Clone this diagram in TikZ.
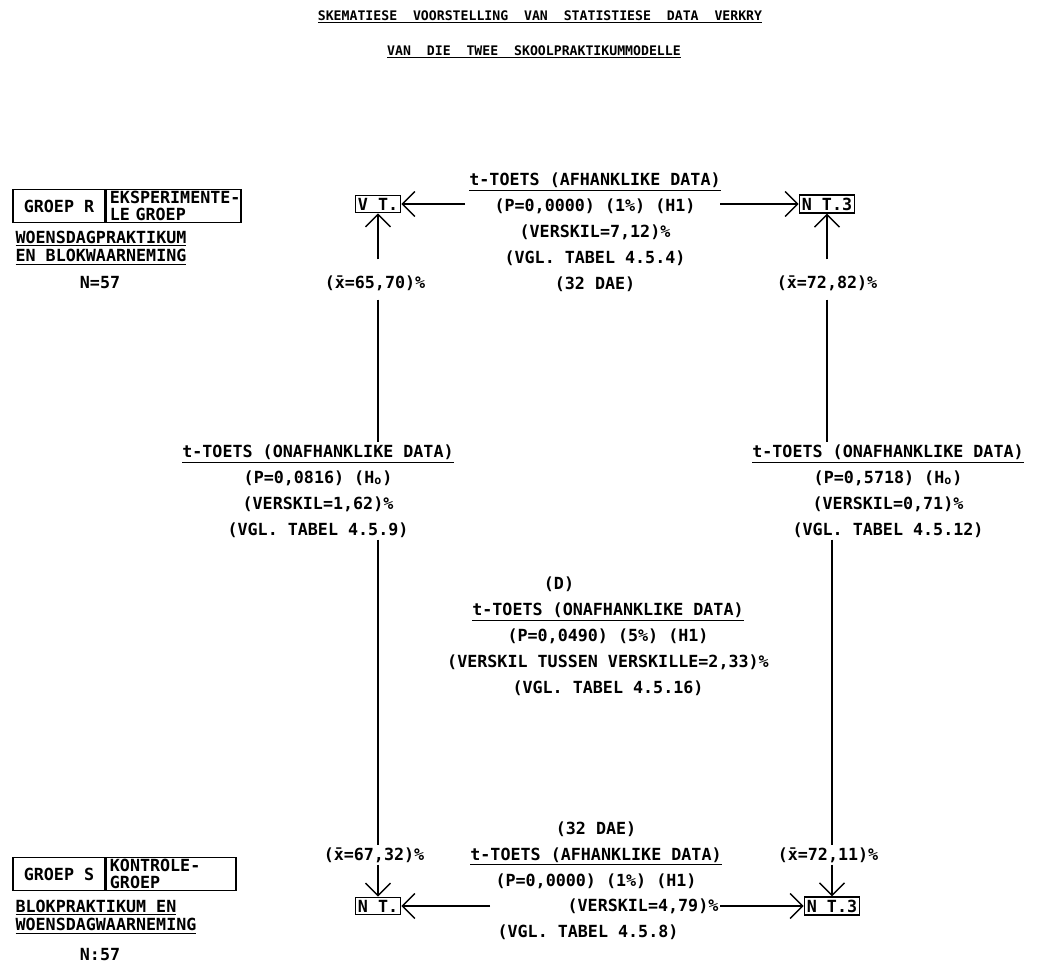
\documentclass[tikz,border=0pt]{standalone}
\usepackage{fontspec}
\setmonofont{DejaVu Sans Mono}
\usetikzlibrary{arrows.meta}

\begin{document}
\begin{tikzpicture}[x=0.02cm,y=-0.02cm,
    every node/.style={font=\ttfamily\bfseries\fontsize{9.5}{14.8}\selectfont,align=center,inner sep=1pt},
    kop/.style={font=\ttfamily\bfseries\fontsize{7.5}{9}\selectfont},
    twee/.style={font=\ttfamily\bfseries\fontsize{9.5}{10.5}\selectfont,align=left},
    vak/.style={draw,thick,font=\ttfamily\bfseries\fontsize{9.5}{9.5}\selectfont,minimum height=0.66cm,inner xsep=2pt},
    mt/.style={draw,thick,inner sep=1.5pt},
    pyl/.style={thick,-{Straight Barb[length=2.5mm,width=5mm]}}]
  \useasboundingbox (0,0) rectangle (1051,970);
  % titel
  \node[kop] (t1) at (540,17) {\underline{SKEMATIESE\ \ VOORSTELLING\ \ VAN\ \ STATISTIESE\ \ DATA\ \ VERKRY}};
  \node[kop] (t2) at (534,52) {\underline{VAN\ \ DIE\ \ TWEE\ \ SKOOLPRAKTIKUMMODELLE}};
  % groep R
  \node[vak,minimum width=1.84cm] (gr) at (59,206) {GROEP R};
  \node[vak,text width=2.55cm,anchor=west,align=left] (er) at (gr.east) {EKSPERIMENTE-\\LE GROEP};
  \node[twee] (wr) at (101,248) {\underline{WOENSDAGPRAKTIKUM}\\\underline{EN BLOKWAARNEMING}};
  \node (nr) at (100,283) {N=57};
  % groep S
  \node[vak,minimum width=1.84cm] (gs) at (59,874) {GROEP S};
  \node[vak,text width=2.45cm,anchor=west,align=left] (ks) at (gs.east) {KONTROLE-\\GROEP};
  \node[twee] (bs) at (106,917) {\underline{BLOKPRAKTIKUM EN}\\\underline{WOENSDAGWAARNEMING}};
  \node (ns) at (100,955) {N:57};
  % toetse
  \node[mt] (vt) at (378,204) {V T.};
  \node[mt] (nt) at (827,204) {N T.3};
  \node[mt] (vn) at (378,906) {N T.};
  \node[mt] (nn) at (832,906) {N T.3};
  \node (xa) at (375,283) {(\={x}=65,70)\%};
  \node (xb) at (827,283) {(\={x}=72,82)\%};
  \node (xc) at (374,855) {(\={x}=67,32)\%};
  \node (xd) at (828,855) {(\={x}=72,11)\%};
  \node (ta) at (595,232) {\underline{t-TOETS (AFHANKLIKE DATA)}\\(P=0,0000) (1\%) (H1)\\(VERSKIL=7,12)\%\\(VGL. TABEL 4.5.4)\\(32 DAE)};
  \node (la) at (318,491) {\underline{t-TOETS (ONAFHANKLIKE DATA)}\\(P=0,0816) (H\textsubscript{o})\\(VERSKIL=1,62)\%\\(VGL. TABEL 4.5.9)};
  \node (ra) at (888,491) {\underline{t-TOETS (ONAFHANKLIKE DATA)}\\(P=0,5718) (H\textsubscript{o})\\(VERSKIL=0,71)\%\\(VGL. TABEL 4.5.12)};
  \node (dd) at (559,584) {(D)};
  \node (md) at (608,649) {\underline{t-TOETS (ONAFHANKLIKE DATA)}\\(P=0,0490) (5\%) (H1)\\(VERSKIL TUSSEN VERSKILLE=2,33)\%\\(VGL. TABEL 4.5.16)};
  \node (ba) at (596,855) {(32 DAE)\\\underline{t-TOETS (AFHANKLIKE DATA)}\\(P=0,0000) (1\%) (H1)};
  \node (bv) at (643,906) {(VERSKIL=4,79)\%};
  \node (bg) at (588,932) {(VGL. TABEL 4.5.8)};
  % pyle
  \coordinate (pa) at (465,204);
  \coordinate (pb) at (720,204);
  \coordinate (pc) at (490,906);
  \draw[pyl] (pa) -- (vt);
  \draw[pyl] (pb) -- (nt);
  \draw[pyl] (pc) -- (vn);
  \draw[pyl] (bv) -- (nn);
  \draw[pyl,shorten <=8pt] (xa.north -| vt) -- (vt);
  \draw[pyl,shorten <=8pt] (xb) -- (nt);
  \draw[pyl] (xc.south -| vn) -- (vn);
  \draw[pyl] (xd.south -| nn) -- (nn);
  \draw[thick,shorten <=4pt] (xa.south -| vt) -- (vt |- la.north);
  \draw[thick] (vt |- la.south) -- (xc.north -| vt);
  \draw[thick,shorten <=4pt] (xb) -- (xb |- ra.north);
  \draw[thick] (nn |- ra.south) -- (xd.north -| nn);
\end{tikzpicture}
\end{document}
